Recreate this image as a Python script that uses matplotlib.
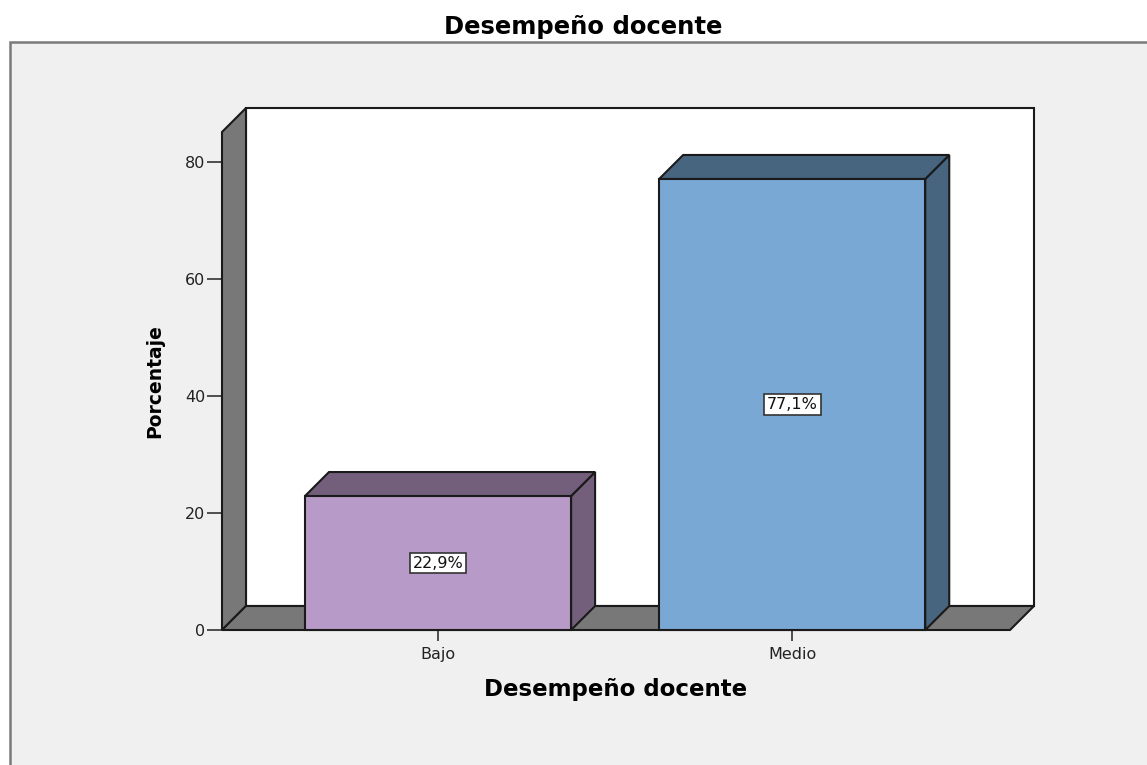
import matplotlib
matplotlib.use("Agg")
import matplotlib.pyplot as plt
from matplotlib.patches import Polygon, Rectangle

# ---- data ----
categories = ["Bajo", "Medio"]
percentages = [22.9, 77.1]
front_colors = ["#b89ac8", "#7aa8d5"]
shade_colors = ["#735f7c", "#48657f"]
yticks = [0, 20, 40, 60, 80]

title = "Desempeño docente"
xlabel = "Desempeño docente"
ylabel = "Porcentaje"

plt.rcParams["font.family"] = ["DejaVu Sans"]

W, H = 1147, 765
fig = plt.figure(figsize=(W / 100, H / 100), dpi=100, facecolor="white")

# gray panel behind the chart (only top and left borders visible)
fig.patches.append(Rectangle((10 / W, -0.1), 1.2, (H - 42) / H + 0.1,
                             transform=fig.transFigure, facecolor="#f0f0f0",
                             edgecolor="#7a7a7a", linewidth=1.8, zorder=-5))

fig.text(583 / W, 1 - 27 / H, title, ha="center", va="center",
         fontsize=17.5, fontweight="bold", color="black")

# axes = front plane of the 3D box
ax = fig.add_axes([222 / W, 135 / H, 788 / W, 498 / H])
ax.set_facecolor("none")
x0, x1 = -0.61, 1.615
y0, y1 = 0, 85.13
ax.set_xlim(x0, x1)
ax.set_ylim(y0, y1)

# depth offsets (24 px) expressed in data units
dx = 24 / (788 / (x1 - x0))
dy = 24 / (498 / (y1 - y0))

edge = "#1a1a1a"
lw = 1.5
wall = "#787878"

def face(pts, color, z):
    ax.add_patch(Polygon(pts, closed=True, facecolor=color, edgecolor=edge,
                         linewidth=lw, clip_on=False, zorder=z, joinstyle="miter"))

# back wall, left wall, floor
face([(x0 + dx, y0 + dy), (x1 + dx, y0 + dy), (x1 + dx, y1 + dy), (x0 + dx, y1 + dy)], "white", 1)
face([(x0, y0), (x0 + dx, y0 + dy), (x0 + dx, y1 + dy), (x0, y1)], wall, 2)
face([(x0, y0), (x1, y0), (x1 + dx, y0 + dy), (x0 + dx, y0 + dy)], wall, 2)

# bars
bw = 266 / 354
for i, (cat, v) in enumerate(zip(categories, percentages)):
    l, r = i - bw / 2, i + bw / 2
    face([(r, 0), (r + dx, dy), (r + dx, v + dy), (r, v)], shade_colors[i], 3)
    face([(l, v), (r, v), (r + dx, v + dy), (l + dx, v + dy)], shade_colors[i], 3)
    face([(l, 0), (r, 0), (r, v), (l, v)], front_colors[i], 4)
    lab = f"{v:.1f}".replace(".", ",") + "%"
    ax.text(i, v / 2, lab, ha="center", va="center", fontsize=11.5, color="#111111",
            zorder=6, bbox=dict(boxstyle="square,pad=0.18", facecolor="white",
                                edgecolor="#333333", linewidth=1.2))

for s in ax.spines.values():
    s.set_visible(False)

ax.set_yticks(yticks)
ax.set_xticks(range(len(categories)))
ax.set_xticklabels(categories)
ax.tick_params(axis="y", direction="out", length=11, width=1.2, color="#333333",
               labelsize=11.5, labelcolor="#222222", pad=1)
ax.tick_params(axis="x", direction="out", length=8, width=1.2, color="#333333",
               labelsize=11.5, labelcolor="#222222", pad=4)

ax.set_xlabel(xlabel, fontsize=16.5, fontweight="bold", labelpad=12)
ax.set_ylabel(ylabel, fontsize=13.5, fontweight="bold", labelpad=15)

fig.savefig("out.png", dpi=100, facecolor=fig.get_facecolor())
